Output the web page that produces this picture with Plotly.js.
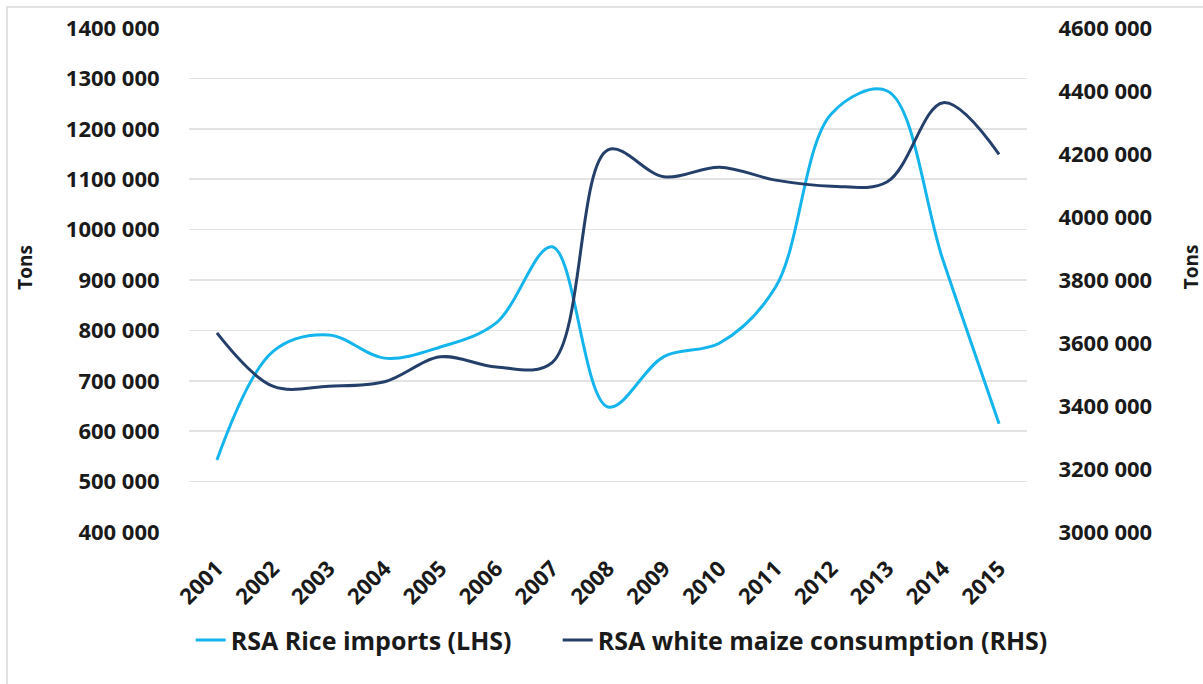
<!DOCTYPE html>
<html>
<head>
<meta charset="utf-8">
<script src="https://cdn.plot.ly/plotly-3.0.1.min.js"></script>
<style>
html,body{margin:0;padding:0;background:#fff;}
#chart{width:1203px;height:684px;}
</style>
</head>
<body>
<div id="chart"></div>
<script>
const years = ['2001','2002','2003','2004','2005','2006','2007','2008','2009','2010','2011','2012','2013','2014','2015'];
const riceImports = [543000, 758000, 791000, 745000, 767000, 815000, 966000, 648000, 748000, 775000, 886000, 1230000, 1275000, 938000, 615000];
const maizeConsumption = [3632000, 3463000, 3463000, 3477000, 3556000, 3524000, 3538000, 4213000, 4128000, 4158000, 4117000, 4098000, 4112000, 4363000, 4199000];

const leftTickVals = [400000, 500000, 600000, 700000, 800000, 900000, 1000000, 1100000, 1200000, 1300000, 1400000];
const leftTickText = ['400 000','500 000','600 000','700 000','800 000','900 000','1000 000','1100 000','1200 000','1300 000','1400 000'];
const rightTickVals = [3000000, 3200000, 3400000, 3600000, 3800000, 4000000, 4200000, 4400000, 4600000];
const rightTickText = ['3000 000','3200 000','3400 000','3600 000','3800 000','4000 000','4200 000','4400 000','4600 000'];

const seriesNames = ['RSA Rice imports (LHS)', 'RSA white maize consumption (RHS)'];
const axisTitle = 'Tons';

const FONT = 'Open Sans, Liberation Sans, sans-serif';
const tickFont = {family: FONT, size: 22, color: '#1a1a1a', weight: 'bold'};
const legendFont = {family: FONT, size: 25, color: '#1a1a1a', weight: 'bold'};

const traces = [
  {
    x: years, y: riceImports, name: seriesNames[0], type: 'scatter', mode: 'lines',
    line: {color: '#14B4EC', width: 3, shape: 'spline', smoothing: 1},
    yaxis: 'y', legend: 'legend'
  },
  {
    x: years, y: maizeConsumption, name: seriesNames[1], type: 'scatter', mode: 'lines',
    line: {color: '#24406A', width: 3, shape: 'spline', smoothing: 1},
    yaxis: 'y2', legend: 'legend2'
  }
];

const layout = {
  width: 1203, height: 684,
  margin: {l: 189, r: 176, t: 28, b: 152},
  paper_bgcolor: '#ffffff', plot_bgcolor: '#ffffff',
  showlegend: true,
  legend: {
    orientation: 'h', x: 0.002, xanchor: 'left', y: -0.215, yanchor: 'middle',
    font: legendFont, itemwidth: 30
  },
  legend2: {
    orientation: 'h', x: 0.44, xanchor: 'left', y: -0.215, yanchor: 'middle',
    font: legendFont, itemwidth: 30
  },
  xaxis: {
    type: 'category', range: [-0.5, 14.5],
    showgrid: false, zeroline: false, showline: false,
    ticks: 'outside', ticklen: 14, tickcolor: 'rgba(0,0,0,0)',
    tickangle: -45, tickfont: tickFont, fixedrange: true
  },
  yaxis: {
    range: [400000, 1400000],
    tickvals: leftTickVals, ticktext: leftTickText,
    showgrid: true, gridcolor: '#E3E3E3', gridwidth: 1.5,
    zeroline: false, showline: false,
    ticks: 'outside', ticklen: 24, tickcolor: 'rgba(0,0,0,0)',
    tickfont: tickFont
  },
  yaxis2: {
    range: [3000000, 4600000], overlaying: 'y', side: 'right',
    tickvals: rightTickVals, ticktext: rightTickText,
    showgrid: false, zeroline: false, showline: false,
    ticks: 'outside', ticklen: 26, tickcolor: 'rgba(0,0,0,0)',
    tickfont: tickFont
  },
  annotations: [
    {text: axisTitle, xref: 'paper', yref: 'paper', x: -0.196, y: 0.526, xanchor: 'center', yanchor: 'middle',
     textangle: -90, showarrow: false, font: {family: FONT, size: 19, color: '#1a1a1a', weight: 'bold'}},
    {text: axisTitle, xref: 'paper', yref: 'paper', x: 1.195, y: 0.526, xanchor: 'center', yanchor: 'middle',
     textangle: -90, showarrow: false, font: {family: FONT, size: 19, color: '#1a1a1a', weight: 'bold'}}
  ],
  shapes: [
    {type: 'rect', xref: 'paper', yref: 'paper', x0: -0.2172, x1: 1.3, y0: -0.5, y1: 1.0417,
     line: {color: '#D9D9D9', width: 1.5}, fillcolor: 'rgba(0,0,0,0)', layer: 'below'}
  ]
};

Plotly.newPlot('chart', traces, layout, {displayModeBar: false, staticPlot: true});
</script>
</body>
</html>
